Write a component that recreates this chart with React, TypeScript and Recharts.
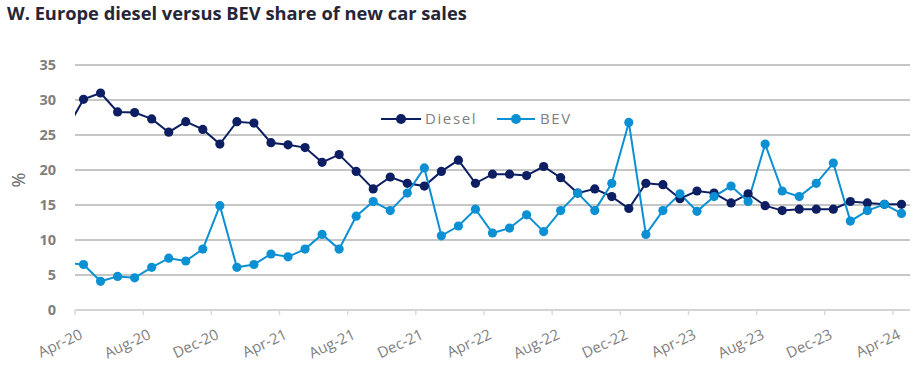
import React from "react"
import { LineChart, Line, XAxis, YAxis, CartesianGrid } from "recharts"

// Mar-20 sits just left of the plot so its segment enters clipped, as in the original
const months = [
  "Mar-20", "Apr-20", "May-20", "Jun-20", "Jul-20", "Aug-20", "Sep-20", "Oct-20", "Nov-20", "Dec-20",
  "Jan-21", "Feb-21", "Mar-21", "Apr-21", "May-21", "Jun-21", "Jul-21", "Aug-21", "Sep-21", "Oct-21",
  "Nov-21", "Dec-21", "Jan-22", "Feb-22", "Mar-22", "Apr-22", "May-22", "Jun-22", "Jul-22", "Aug-22",
  "Sep-22", "Oct-22", "Nov-22", "Dec-22", "Jan-23", "Feb-23", "Mar-23", "Apr-23", "May-23", "Jun-23",
  "Jul-23", "Aug-23", "Sep-23", "Oct-23", "Nov-23", "Dec-23", "Jan-24", "Feb-24", "Mar-24", "Apr-24",
]

const diesel = [
  25.8, 30.1, 31.0, 28.3, 28.2, 27.3, 25.4, 26.9, 25.8, 23.7,
  26.9, 26.7, 23.9, 23.6, 23.2, 21.1, 22.2, 19.8, 17.3, 19.0,
  18.1, 17.7, 19.8, 21.4, 18.1, 19.4, 19.4, 19.2, 20.5, 18.9,
  16.7, 17.3, 16.2, 14.5, 18.1, 17.9, 15.9, 17.0, 16.7, 15.3,
  16.6, 14.9, 14.2, 14.4, 14.4, 14.4, 15.5, 15.3, 15.1, 15.1,
]

const bev = [
  6.7, 6.5, 4.1, 4.8, 4.6, 6.1, 7.4, 7.0, 8.7, 14.9,
  6.1, 6.5, 8.0, 7.6, 8.7, 10.8, 8.7, 13.4, 15.5, 14.2,
  16.7, 20.3, 10.6, 12.0, 14.4, 11.0, 11.7, 13.6, 11.2, 14.2,
  16.7, 14.2, 18.1, 26.8, 10.8, 14.2, 16.6, 14.1, 16.2, 17.7,
  15.5, 23.7, 17.0, 16.2, 18.1, 21.0, 12.7, 14.2, 15.1, 13.8,
]

const yTicks = [0, 5, 10, 15, 20, 25, 30, 35]
const xTicks = [0.5, 4.5, 8.5, 12.5, 16.5, 20.5, 24.5, 28.5, 32.5, 36.5, 40.5, 44.5, 48.5]

const DIESEL = "#0d1f62"
const BEV = "#0b90d4"
const GREY = "#7f7f7f"

const data = months.map((m, i) => ({ i, month: m, diesel: diesel[i], bev: bev[i] }))

const PLOT_W = 835
const HALF = PLOT_W / 49 / 2

const MonthTick = (props: any) => {
  const { x, y, payload } = props
  const label = months[Math.round(payload.value + 0.5)]
  return (
    <g>
      <line x1={x} y1={y} x2={x} y2={y + 5} stroke="#d9d9d9" strokeWidth={1.5} />
      <text
        transform={`translate(${x + HALF},${y + 28}) rotate(-25)`}
        textAnchor="end"
        fontSize={15}
        fontFamily="Open Sans"
        fill={GREY}
      >
        {label}
      </text>
    </g>
  )
}

const LegendBox = () => (
  <svg width={200} height={24}>
    <line x1={3} y1={12} x2={43} y2={12} stroke={DIESEL} strokeWidth={2} />
    <circle cx={23} cy={12} r={5} fill={DIESEL} />
    <text x={47} y={17} fontSize={15} fontFamily="Open Sans" letterSpacing={1.6} fill={GREY}>Diesel</text>
    <line x1={119} y1={12} x2={157} y2={12} stroke={BEV} strokeWidth={2} />
    <circle cx={138} cy={12} r={5} fill={BEV} />
    <text x={162} y={17} fontSize={15} fontFamily="Open Sans" letterSpacing={1.6} fill={GREY}>BEV</text>
  </svg>
)

export default function App() {
  return (
    <div style={{ position: "absolute", left: 0, top: 0, width: 917, height: 366, background: "#fff", fontFamily: "Open Sans" }}>
      <div style={{ position: "absolute", left: 7, top: 2, fontSize: 18.3, lineHeight: "22px", fontWeight: 700, color: "#262637", whiteSpace: "nowrap" }}>
        W. Europe diesel versus BEV share of new car sales
      </div>
      <div style={{ position: "absolute", left: 0, top: 0 }}>
        <LineChart width={917} height={366} data={data} margin={{ top: 65, right: 7, bottom: 26, left: 0 }}>
          <CartesianGrid vertical={false} stroke="#b3b3b3" strokeWidth={1.4} />
          <XAxis
            dataKey="i"
            type="number"
            height={30}
            domain={[0.5, 49.5]}
            allowDataOverflow
            ticks={xTicks}
            interval={0}
            tick={<MonthTick />}
            tickLine={false}
            tickSize={0}
            tickMargin={0}
            axisLine={{ stroke: "#d9d9d9", strokeWidth: 1.5 }}
          />
          <YAxis
            width={75}
            domain={[0, 35]}
            ticks={yTicks}
            interval={0}
            axisLine={false}
            tickLine={false}
            tickSize={0}
            tickMargin={19}
            tick={{ fill: GREY, fontSize: 14.5, fontWeight: 700, fontFamily: "Open Sans" }}
            label={{ value: "%", angle: -90, position: "insideLeft", offset: 19, fill: "#666", fontSize: 18 }}
          />
          <Line
            dataKey="diesel"
            name="Diesel"
            stroke={DIESEL}
            strokeWidth={2}
            dot={{ r: 4.6, fill: DIESEL, stroke: DIESEL, strokeWidth: 0 }}
            isAnimationActive={false}
          />
          <Line
            dataKey="bev"
            name="BEV"
            stroke={BEV}
            strokeWidth={2}
            dot={{ r: 4.6, fill: BEV, stroke: BEV, strokeWidth: 0 }}
            isAnimationActive={false}
          />
        </LineChart>
      </div>
      <div style={{ position: "absolute", left: 378, top: 107 }}>
        <LegendBox />
      </div>
    </div>
  )
}
